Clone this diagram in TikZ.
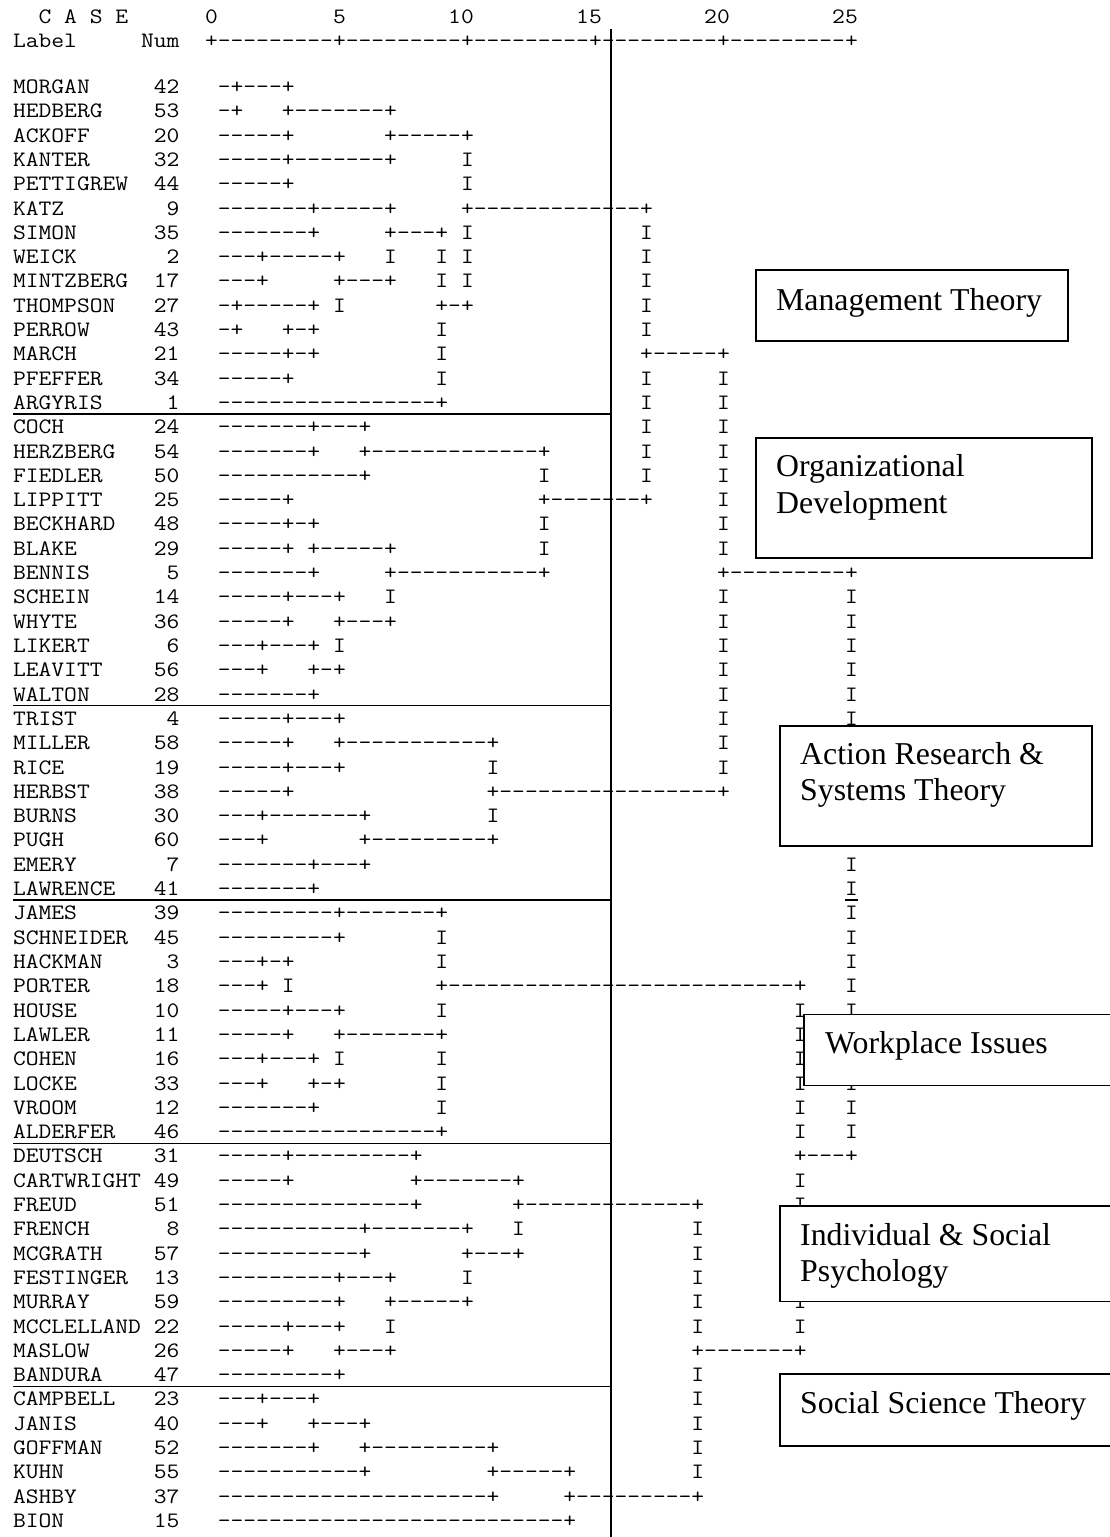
\documentclass[tikz,border=0pt]{standalone}
\usepackage{fontspec}
\usepackage{graphicx}
\newfontfamily\labelserif{Liberation Serif}
\newlength\monochar
\begin{document}
% character cell: 12.8 units wide, rows 24.305 units apart
\settowidth\monochar{\fontsize{22}{26}\selectfont\ttfamily 0}
\pgfmathsetmacro\monoscale{12.8pt/\monochar}
\newcommand\mt[1]{\scalebox{\monoscale}[1]{#1}}
\newcommand\rowy[1]{(93.5+(#1)*24.305)}
\newcommand\colx[1]{(13+(#1)*12.8)}
% one case line: index, label, number, list of column/text pieces
\newcommand\drow[4]{%
  \node[mono,anchor=base west] (n#1) at ({\colx{0}},{\rowy{#1}}) {\mt{#2}};
  \node[mono,anchor=base east] (m#1) at ({\colx{13}},{\rowy{#1}}) {\mt{#3}};
  \foreach \colno/\segtxt [count=\k] in {#4}
    {\node[mono,anchor=base west] (s#1-\k) at ({\colx{\colno}},{\rowy{#1}}) {\mt{\segtxt}};}%
}
\begin{tikzpicture}[x=1pt,y=-1pt,
  mono/.style={font=\fontsize{22}{26}\selectfont\ttfamily, inner sep=0pt, outer sep=0pt},
  underrule/.style={line width=1.2pt},
  divider/.style={line width=1.8pt},
  catbox/.style={draw, line width=1.7pt, fill=white, inner sep=0pt, anchor=north west},
  cattext/.style={font=\fontsize{31.8}{36}\selectfont\labelserif, inner sep=0pt, anchor=base west}]
\fill[white] (0,0) rectangle (1110,1537);
\useasboundingbox (0,0) rectangle (1110,1537);

% header lines
\node[mono,anchor=base west] (case) at ({\colx{2}},23.7) {\mt{C A S E}};
\node[mono,anchor=base west] (h0)  at ({\colx{15}},23.7) {\mt{0}};
\node[mono,anchor=base west] (h5)  at ({\colx{25}},23.7) {\mt{5}};
\node[mono,anchor=base west] (h10) at ({\colx{34}},23.7) {\mt{10}};
\node[mono,anchor=base west] (h15) at ({\colx{44}},23.7) {\mt{15}};
\node[mono,anchor=base west] (h20) at ({\colx{54}},23.7) {\mt{20}};
\node[mono,anchor=base west] (h25) at ({\colx{64}},23.7) {\mt{25}};
\node[mono,anchor=base west] (lab) at ({\colx{0}},47.7) {\mt{Label}};
\node[mono,anchor=base west] (num) at ({\colx{10}},47.7) {\mt{Num}};
\node[mono,anchor=base west] (ruler) at ({\colx{15}},47.7) {\mt{+---------+---------+---------+---------+---------+}};

% dendrogram (pieces lying fully under the label boxes are left out)
\drow{0}{MORGAN}{42}{16/-+---+}
\drow{1}{HEDBERG}{53}{16/-+, 21/+-------+}
\drow{2}{ACKOFF}{20}{16/-----+, 29/+-----+}
\drow{3}{KANTER}{32}{16/-----+-------+, 35/I}
\drow{4}{PETTIGREW}{44}{16/-----+, 35/I}
\drow{5}{KATZ}{9}{16/-------+-----+, 35/+-------------+}
\drow{6}{SIMON}{35}{16/-------+, 29/+---+, 35/I, 49/I}
\drow{7}{WEICK}{2}{16/---+-----+, 29/I, 33/I, 35/I, 49/I}
\drow{8}{MINTZBERG}{17}{16/---+, 25/+---+, 33/I, 35/I, 49/I}
\drow{9}{THOMPSON}{27}{16/-+-----+, 25/I, 33/+-+, 49/I}
\drow{10}{PERROW}{43}{16/-+, 21/+-+, 33/I, 49/I}
\drow{11}{MARCH}{21}{16/-----+-+, 33/I, 49/+-----+}
\drow{12}{PFEFFER}{34}{16/-----+, 33/I, 49/I, 55/I}
\drow{13}{ARGYRIS}{1}{16/-----------------+, 49/I, 55/I}
\drow{14}{COCH}{24}{16/-------+---+, 49/I, 55/I}
\drow{15}{HERZBERG}{54}{16/-------+, 27/+-------------+, 49/I, 55/I}
\drow{16}{FIEDLER}{50}{16/-----------+, 41/I, 49/I, 55/I}
\drow{17}{LIPPITT}{25}{16/-----+, 41/+-------+, 55/I}
\drow{18}{BECKHARD}{48}{16/-----+-+, 41/I, 55/I}
\drow{19}{BLAKE}{29}{16/-----+, 23/+-----+, 41/I, 55/I}
\drow{20}{BENNIS}{5}{16/-------+, 29/+-----------+, 55/+---------+}
\drow{21}{SCHEIN}{14}{16/-----+---+, 29/I, 55/I, 65/I}
\drow{22}{WHYTE}{36}{16/-----+, 25/+---+, 55/I, 65/I}
\drow{23}{LIKERT}{6}{16/---+---+, 25/I, 55/I, 65/I}
\drow{24}{LEAVITT}{56}{16/---+, 23/+-+, 55/I, 65/I}
\drow{25}{WALTON}{28}{16/-------+, 55/I, 65/I}
\drow{26}{TRIST}{4}{16/-----+---+, 55/I, 65/I}
\drow{27}{MILLER}{58}{16/-----+, 25/+-----------+, 55/I}
\drow{28}{RICE}{19}{16/-----+---+, 37/I, 55/I}
\drow{29}{HERBST}{38}{16/-----+, 37/+-----------------+}
\drow{30}{BURNS}{30}{16/---+-------+, 37/I}
\drow{31}{PUGH}{60}{16/---+, 27/+---------+}
\drow{32}{EMERY}{7}{16/-------+---+, 65/I}
\drow{33}{LAWRENCE}{41}{16/-------+, 65/I}
\drow{34}{JAMES}{39}{16/---------+-------+, 65/I}
\drow{35}{SCHNEIDER}{45}{16/---------+, 33/I, 65/I}
\drow{36}{HACKMAN}{3}{16/---+-+, 33/I, 65/I}
\drow{37}{PORTER}{18}{16/---+, 21/I, 33/+---------------------------+, 65/I}
\drow{38}{HOUSE}{10}{16/-----+---+, 33/I, 61/I, 65/I}
\drow{39}{LAWLER}{11}{16/-----+, 25/+-------+, 61/I}
\drow{40}{COHEN}{16}{16/---+---+, 25/I, 33/I, 61/I}
\drow{41}{LOCKE}{33}{16/---+, 23/+-+, 33/I, 61/I, 65/I}
\drow{42}{VROOM}{12}{16/-------+, 33/I, 61/I, 65/I}
\drow{43}{ALDERFER}{46}{16/-----------------+, 61/I, 65/I}
\drow{44}{DEUTSCH}{31}{16/-----+---------+, 61/+---+}
\drow{45}{CARTWRIGHT}{49}{16/-----+, 31/+-------+, 61/I}
\drow{46}{FREUD}{51}{16/---------------+, 39/+-------------+, 61/I}
\drow{47}{FRENCH}{8}{16/-----------+-------+, 39/I, 53/I}
\drow{48}{MCGRATH}{57}{16/-----------+, 35/+---+, 53/I}
\drow{49}{FESTINGER}{13}{16/---------+---+, 35/I, 53/I}
\drow{50}{MURRAY}{59}{16/---------+, 29/+-----+, 53/I, 61/I}
\drow{51}{MCCLELLAND}{22}{16/-----+---+, 29/I, 53/I, 61/I}
\drow{52}{MASLOW}{26}{16/-----+, 25/+---+, 53/+-------+}
\drow{53}{BANDURA}{47}{16/---------+, 53/I}
\drow{54}{CAMPBELL}{23}{16/---+---+, 53/I}
\drow{55}{JANIS}{40}{16/---+, 23/+---+, 53/I}
\drow{56}{GOFFMAN}{52}{16/-------+, 27/+---------+, 53/I}
\drow{57}{KUHN}{55}{16/-----------+, 37/+-----+, 53/I}
\drow{58}{ASHBY}{37}{16/---------------------+, 43/+---------+}
\drow{59}{BION}{15}{16/---------------------------+}

% group dividers under the last case of each group
\foreach \r in {13,25,33,43,53}
  \draw[underrule] ({\colx{0}},{\rowy{\r}+4.5}) -- (611,{\rowy{\r}+4.5});
\draw[underrule] ({\colx{65}},{\rowy{33}+4.5}) -- ({\colx{66}},{\rowy{33}+4.5});

% vertical cut line
\coordinate (cuttop) at (611,29);
\coordinate (cutbot) at (611,1540);
\draw[divider] (cuttop) -- (cutbot);

% group labels
\node[catbox, minimum width=312pt, minimum height=71pt] (b1) at (755,269) {};
\node[cattext] (t1) at (776,310.7) {Management Theory};
\node[catbox, minimum width=336pt, minimum height=120pt] (b2) at (755,437) {};
\node[cattext] (t2a) at (776,476.7) {Organizational};
\node[cattext] (t2b) at (776,513.3) {Development};
\node[catbox, minimum width=312pt, minimum height=120pt] (b3) at (779,725) {};
\node[cattext] (t3a) at (800,764) {Action Research \&};
\node[cattext] (t3b) at (800,800.7) {Systems Theory};
\node[catbox, minimum width=315pt, minimum height=71pt] (b4) at (803,1013.5) {};
\node[cattext] (t4) at (825,1053.3) {Workplace Issues};
\node[catbox, minimum width=340pt, minimum height=95.7pt] (b5) at (779,1205) {};
\node[cattext] (t5a) at (800,1245) {Individual \& Social};
\node[cattext] (t5b) at (800,1281) {Psychology};
\node[catbox, minimum width=340pt, minimum height=72pt] (b6) at (779,1373) {};
\node[cattext] (t6) at (800,1413.3) {Social Science Theory};
\end{tikzpicture}
\end{document}
